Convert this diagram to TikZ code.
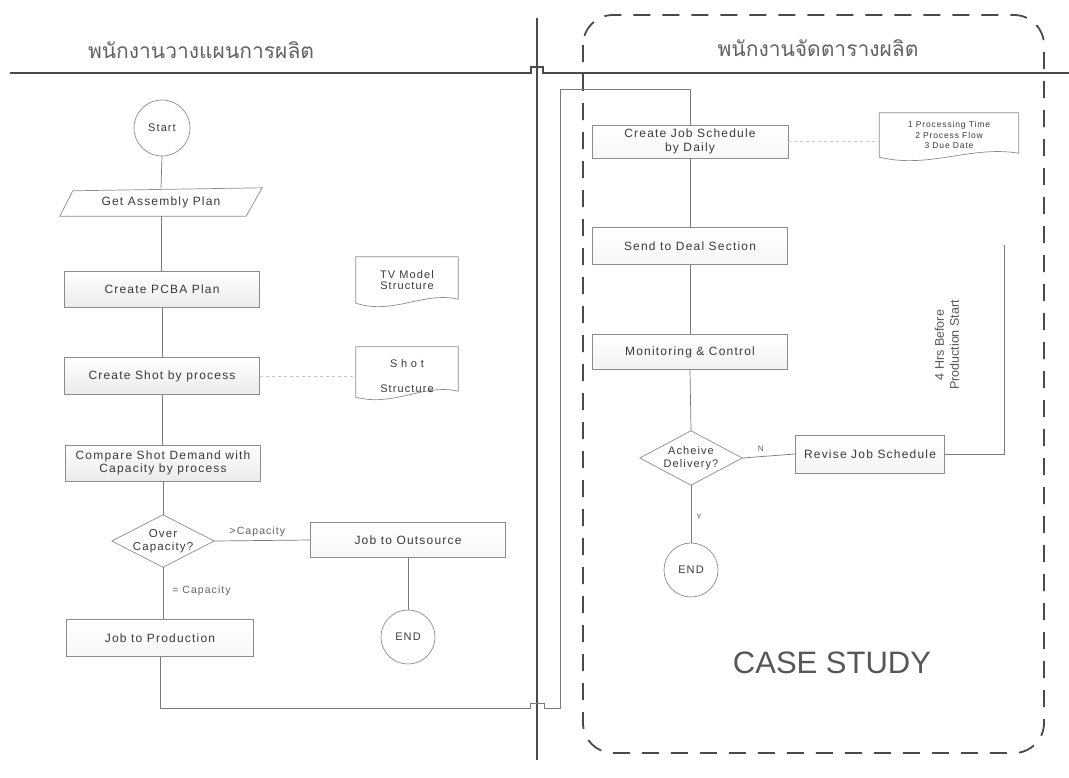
\documentclass[tikz,border=0pt]{standalone}
\usepackage{fontspec}
\setmainfont{Liberation Sans}
\newfontfamily\thaifont[Script=Thai]{Loma}
\newfontfamily\spfont[LetterSpace=10]{Liberation Sans}
\definecolor{ink}{HTML}{3A3A3A}
\definecolor{edgec}{HTML}{8C8C8C}
\definecolor{linec}{HTML}{7A7A7A}
\definecolor{lanec}{HTML}{4A4A4A}
\begin{document}
\begin{tikzpicture}[x=1pt,y=-1pt,
  procbox/.style={draw=edgec, line width=0.7pt, top color=white, bottom color=gray!16,
    minimum width=195pt, minimum height=36pt, inner sep=0pt, text=ink, align=center,
    font=\spfont\fontsize{12}{13.5}\selectfont},
  termcirc/.style={circle, draw=edgec, line width=0.7pt, fill=white, minimum size=56pt,
    inner sep=0pt, text=ink, font=\spfont\fontsize{11}{12}\selectfont},
  holder/.style={inner sep=0pt, text=ink, align=center},
  shapeline/.style={draw=edgec, line width=0.7pt, fill=white},
  conn/.style={draw=linec, line width=0.7pt},
  faint/.style={draw=gray!45, line width=0.6pt, dashed},
  lbl/.style={inner sep=1pt, text=ink!80, font=\spfont\fontsize{10.5}{12}\selectfont},
  lane/.style={draw=lanec, line width=1.1pt},
  casebox/.style={draw=lanec, line width=1.8pt, dash pattern=on 17pt off 12pt, rounded corners=30pt}
]
\useasboundingbox (0,0) rectangle (1069,777);
\fill[white] (0,0) rectangle (1069,777);

% ---- lanes ----
\draw[lane] (10,73) -- (531,73) -- (531,67) -- (543,67) -- (543,73) -- (1069,73);
\draw[lane] (537,18) -- (537,760);
\draw[casebox] (583,15) rectangle (1044,753);
\node[holder, font=\thaifont\fontsize{21}{23}\selectfont, text=ink!80] (lt1) at (201,50) {พนักงานวางแผนการผลิต};
\node[holder, font=\thaifont\fontsize{21}{23}\selectfont, text=ink!80] (lt2) at (818,48) {พนักงานจัดตารางผลิต};

% ---- left lane ----
\node[termcirc] (start) at (162,128) {Start};
\node[holder, minimum width=202pt, minimum height=28pt, font=\spfont\fontsize{12}{13.5}\selectfont] (gp) at (161,202) {Get Assembly Plan};
\node[procbox] (pcba) at (162,289.5) {Create PCBA Plan};
\node[procbox, minimum height=37pt] (shot) at (162,376) {Create Shot by process};
\node[procbox] (cmp) at (163,463) {Compare Shot Demand with\\Capacity by process};
\node[holder, minimum width=102pt, minimum height=52pt, font=\spfont\fontsize{11.5}{12.5}\selectfont] (over) at (163,541) {Over\\Capacity?};
\node[procbox, top color=white, bottom color=gray!6, minimum height=35pt] (outs) at (408,540) {Job to Outsource};
\node[termcirc, minimum size=54pt] (end1) at (408,637) {END};
\node[procbox, top color=white, bottom color=gray!6, minimum width=187pt, minimum height=37pt] (prod) at (160,638) {Job to Production};

% documents (left)
\node[holder, minimum width=102pt, minimum height=46pt, font=\spfont\fontsize{11}{11.5}\selectfont] (tv) at (407,280) {TV Model\\Structure};
\node[holder, minimum width=102pt, minimum height=46pt, font=\spfont\fontsize{11}{12}\selectfont] (sdoc) at (407,376) {S\,\,h\,\,o\,\,t\\[13pt]Structure};

% ---- right lane ----
\node[procbox, top color=white, bottom color=gray!6, minimum width=196pt, minimum height=33pt] (cjs) at (690,141.5) {Create Job Schedule\\by Daily};
\node[holder, minimum width=139pt, minimum height=44pt, font=\spfont\fontsize{8.5}{10.5}\selectfont] (fac) at (949,135) {1 Processing Time\\2 Process Flow\\3 Due Date};
\node[procbox, top color=white, bottom color=gray!6, minimum width=195pt, minimum height=37pt] (sds) at (690,246) {Send to Deal Section};
\node[procbox, top color=white, bottom color=gray!10, minimum width=195pt, minimum height=35pt] (mon) at (690,352) {Monitoring \& Control};
\node[holder, minimum width=102pt, minimum height=54pt, font=\spfont\fontsize{11}{12.5}\selectfont] (ach) at (691,458) {Acheive\\Delivery?};
\node[procbox, top color=white, bottom color=gray!8, minimum width=149pt, minimum height=38pt] (rev) at (870,454) {Revise Job Schedule};
\node[termcirc, minimum size=54pt] (end2) at (691,570) {END};
\node[holder, rotate=90, font=\fontsize{12.5}{15}\selectfont, text=ink!85] (hrs) at (947,345) {4 Hrs Before\\Production Start};
\node[holder, font=\fontsize{31}{33}\selectfont, text=ink!85] (case) at (832,663) {CASE STUDY};

% ---- shape outlines, then their texts on top ----
\path[shapeline] ([xshift=13pt,yshift=-3pt]gp.north west) -- (gp.north east) -- ([xshift=-16pt]gp.south east) -- (gp.south west) -- cycle;
\path[shapeline] (over.north) -- (over.east) -- (over.south) -- (over.west) -- cycle;
\path[shapeline] (ach.north) -- (ach.east) -- (ach.south) -- (ach.west) -- cycle;
\path[shapeline] (tv.north west) -- (tv.north east) -- ([yshift=4pt]tv.south east)
  .. controls ([xshift=-35pt,yshift=12pt]tv.south east) and ([xshift=38pt,yshift=-12pt]tv.south west) .. (tv.south west) -- cycle;
\path[shapeline] ([yshift=6pt]sdoc.north west) -- ([yshift=6pt]sdoc.north east) -- ([yshift=8pt]sdoc.south east)
  .. controls ([xshift=-35pt,yshift=16pt]sdoc.south east) and ([xshift=38pt,yshift=-8pt]sdoc.south west) .. ([yshift=2pt]sdoc.south west) -- cycle;
\path[shapeline] (fac.north west) -- (fac.north east) -- ([yshift=4pt]fac.south east)
  .. controls ([xshift=-48pt,yshift=12pt]fac.south east) and ([xshift=50pt,yshift=-12pt]fac.south west) .. (fac.south west) -- cycle;
\node[holder, font=\spfont\fontsize{12}{13.5}\selectfont] at (gp) {Get Assembly Plan};
\node[holder, font=\spfont\fontsize{11.5}{12.5}\selectfont] at (over) {Over\\Capacity?};
\node[holder, font=\spfont\fontsize{11}{12.5}\selectfont] at (ach) {Acheive\\Delivery?};
\node[holder, font=\spfont\fontsize{11}{11.5}\selectfont] at (tv) {TV Model\\Structure};
\node[holder, font=\spfont\fontsize{11}{12}\selectfont] at (sdoc) {S\,\,h\,\,o\,\,t\\[13pt]Structure};
\node[holder, font=\spfont\fontsize{8.5}{10.5}\selectfont] at (fac) {1 Processing Time\\2 Process Flow\\3 Due Date};

% ---- connectors ----
\coordinate (p1) at (560,708);
\coordinate (p2) at (560,89);
\coordinate (rv1) at (1004,454);
\coordinate (rv2) at (1004,245);

\draw[conn] (start.south) -- (gp.north);
\draw[conn] (gp.south) -- (gp.south |- pcba.north);
\draw[conn] (pcba.south) -- (pcba.south |- shot.north);
\draw[conn] (shot.south) -- (shot.south |- cmp.north);
\draw[conn] (cmp.south) -- (over.north);
\draw[conn] (over.east) -- node[lbl, above, pos=0.45, yshift=3pt] (gt) {>Capacity} (outs.west);
\draw[conn] (outs.south) -- (end1.north);
\draw[conn] (over.south) -- node[lbl, right, pos=0.45, xshift=8pt] (eq) {= Capacity} (over.south |- prod.north);
\draw[conn] (prod.south) |- (530,708) -- (530,703) -- (544,703) -- (544,708) -- (p1) -- (p2) -| (cjs.north);
\draw[faint] (shot.east) -- (shot.east -| tv.west);

\draw[faint] (cjs.east) -- (cjs.east -| fac.west);
\draw[conn] (cjs.south) -- (sds.north);
\draw[conn] (sds.south) -- (mon.north);
\draw[conn] (mon.south) -- (ach.north);
\draw[conn] (ach.east) -- node[lbl, above, pos=0.35, yshift=4pt, font=\spfont\fontsize{8}{9}\selectfont] (nl) {N} (rev.west);
\draw[conn] (rev.east) -- (rv1) -- (rv2);
\draw[conn] (ach.south) -- node[lbl, right, pos=0.55, xshift=4pt, font=\spfont\fontsize{8}{9}\selectfont] (yl) {Y} (end2.north);
\end{tikzpicture}
\end{document}
